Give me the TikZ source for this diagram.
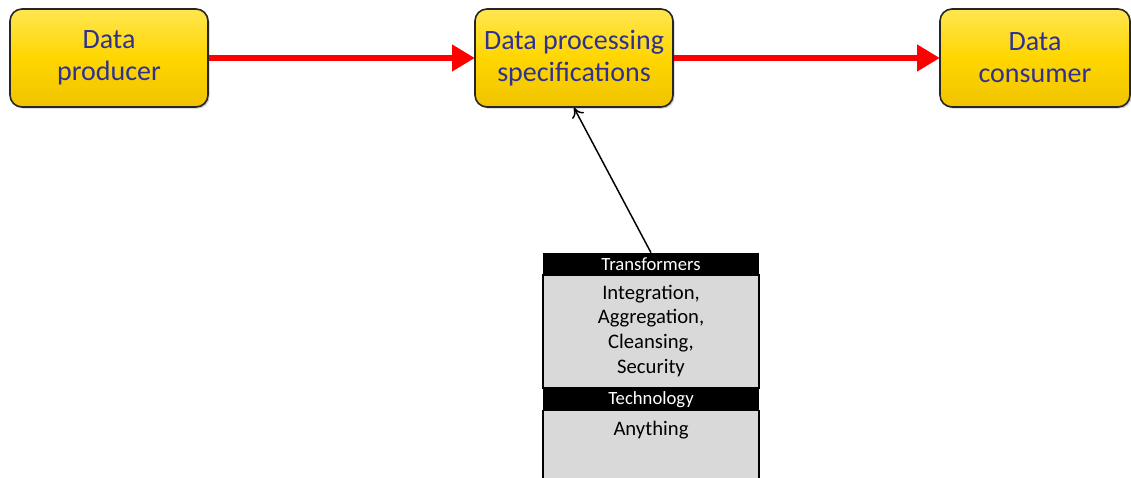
\documentclass[tikz,border=0pt]{standalone}
\usepackage{fontspec}
\setmainfont{Carlito}
\usetikzlibrary{arrows.meta,shadows}
\definecolor{boxtext}{RGB}{46,49,146}
\definecolor{goldtop}{RGB}{255,230,80}
\definecolor{goldbot}{RGB}{240,195,0}
\definecolor{gold}{RGB}{255,214,0}
\definecolor{cellgray}{RGB}{217,217,217}
\tikzset{
  procbox/.style={draw=black!85, line width=1.2pt, rounded corners=9pt,
    top color=goldtop, bottom color=goldbot, middle color=gold,
    minimum width=148.5pt, minimum height=73.5pt, align=center,
    text=boxtext, font=\fontsize{21}{24}\selectfont,
    drop shadow={shadow xshift=1.2pt, shadow yshift=-1.2pt, opacity=0.4}},
  flow/.style={draw=red, line width=4.5pt, -{Triangle[length=17pt,width=19pt]}, shorten >=-0.5pt},
  hdr/.style={fill=black, text=white, minimum width=162pt, inner sep=0pt,
    font=\fontsize{14}{16}\selectfont},
  cell/.style={fill=cellgray, draw=black, line width=0.8pt, minimum width=162pt, inner sep=0pt},
  celltext/.style={align=center, font=\fontsize{15.5}{18.5}\selectfont, inner sep=0pt},
  link/.style={draw=black, line width=1.1pt, -{To[length=7pt,width=10pt,line width=1.1pt]}}
}
\begin{document}
\begin{tikzpicture}[x=0.75pt,y=-0.75pt]
\useasboundingbox (0,0) rectangle (1131,478);
\node[procbox] (prod) at (109,58) {Data\\producer};
\node[procbox] (spec) at (574,58) {Data processing\\specifications};
\node[procbox, minimum width=142.5pt] (cons) at (1035,58) {Data\\consumer};
\draw[flow] (prod.east) -- (spec.west);
\draw[flow] (spec.east) -- (cons.west);
% table
\node[cell, minimum height=84.75pt] (body1) at (651,331.5) {};
\node[cell, minimum height=51pt] (body2) at (651,444.5) {};
\node[hdr, minimum height=16.5pt] (hdr1) at (651,264) {Transformers};
\node[hdr, minimum height=17.25pt] (hdr2) at (651,399.5) {Technology};
\node[celltext, anchor=north] (t1) at (651,284.5) {Integration,\\Aggregation,\\Cleansing,\\Security};
\node[celltext, anchor=north] (t2) at (651,420.5) {Anything};
\draw[link] (hdr1.north) -- (spec.south);
\end{tikzpicture}
\end{document}
